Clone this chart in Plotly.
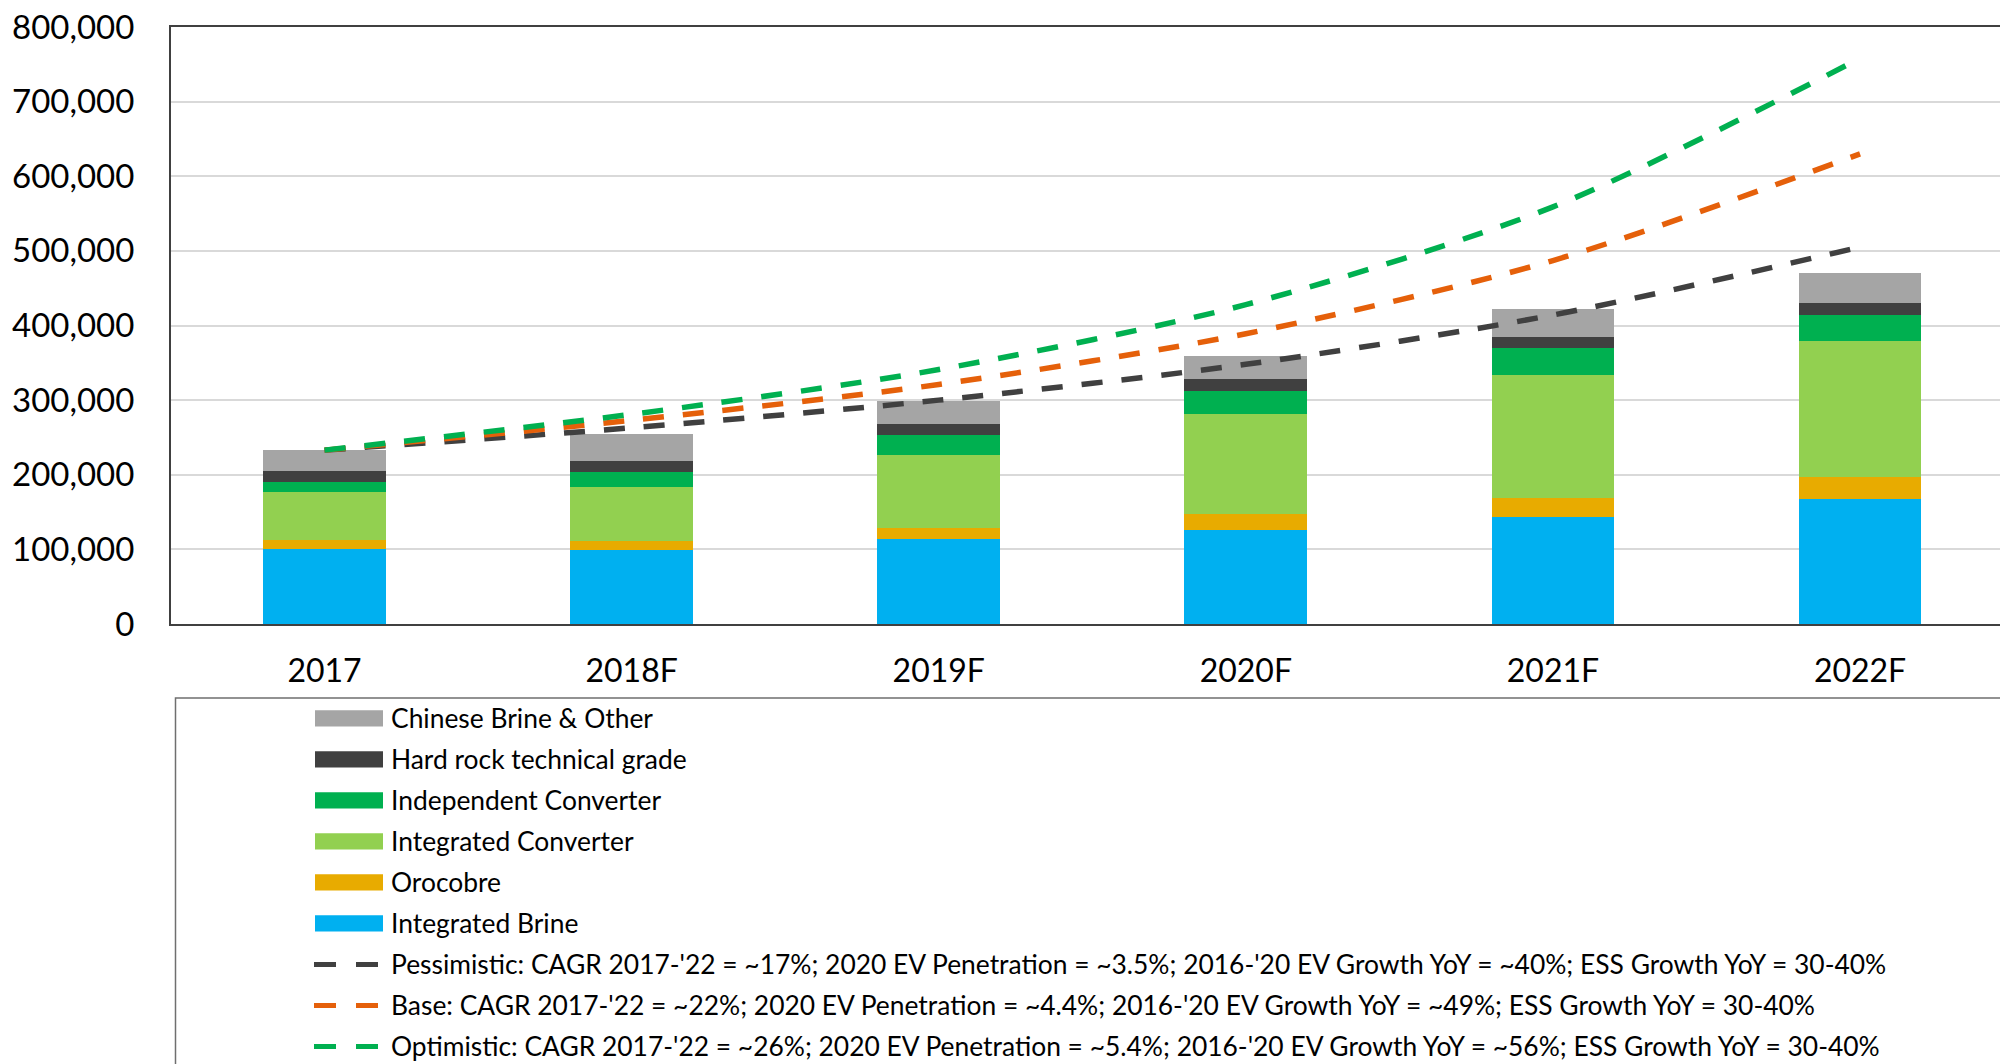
import plotly.graph_objects as go

# ---------------- data ----------------
categories = ["2017", "2018F", "2019F", "2020F", "2021F", "2022F"]

integrated_brine = [101000, 98800, 113500, 125900, 144000, 167700]
orocobre = [12000, 13000, 14700, 20900, 25400, 29400]
integrated_converter = [63700, 71700, 97700, 134400, 164300, 181800]
independent_converter = [14100, 20300, 27100, 31600, 35600, 35600]
hard_rock_technical = [14200, 15300, 14600, 15800, 15800, 15800]
chinese_brine_other = [28200, 35000, 31100, 30500, 36700, 39500]

pessimistic = [233000, 263000, 300000, 348000, 414000, 505000]
base = [233000, 273000, 321000, 389000, 487000, 630000]
optimistic = [233000, 281000, 341000, 428000, 559000, 758000]

bar_names = ["Integrated Brine", "Orocobre", "Integrated Converter",
             "Independent Converter", "Hard rock technical grade",
             "Chinese Brine & Other"]
bar_series = [integrated_brine, orocobre, integrated_converter,
              independent_converter, hard_rock_technical, chinese_brine_other]
bar_colors = ["#00B0F0", "#E8AB00", "#92D050", "#00B050", "#404040", "#A5A5A5"]

line_names = [
    "Pessimistic: CAGR 2017-'22 = ~17%; 2020 EV Penetration = ~3.5%; 2016-'20 EV Growth YoY = ~40%; ESS Growth YoY = 30-40%",
    "Base: CAGR 2017-'22 = ~22%; 2020 EV Penetration = ~4.4%; 2016-'20 EV Growth YoY = ~49%; ESS Growth YoY = 30-40%",
    "Optimistic: CAGR 2017-'22 = ~26%; 2020 EV Penetration = ~5.4%; 2016-'20 EV Growth YoY = ~56%; ESS Growth YoY = 30-40%",
]
line_series = [pessimistic, base, optimistic]
line_colors = ["#404040", "#E5600A", "#00B050"]

# ---------------- layout geometry (pixels, page = figure since body margin is removed) ----------------
W, H = 2000, 1064
ML, MR, MT, MB = 171, 0, 27, 440
PW = W - ML - MR
PH = H - MT - MB
FONT = "Lato"


def px_x(px):
    return (px - ML) / PW


def px_y(py):
    return (H - MB - py) / PH


fig = go.Figure()

for name, vals, col in zip(bar_names, bar_series, bar_colors):
    fig.add_trace(go.Bar(
        x=categories, y=vals, name=name, marker=dict(color=col, line=dict(width=0)),
        width=0.4, showlegend=False,
    ))

for name, vals, col in zip(line_names, line_series, line_colors):
    fig.add_trace(go.Scatter(
        x=categories, y=vals, name=name, mode="lines",
        line=dict(color=col, width=5.5, dash="21px,19px", shape="spline", smoothing=0.8),
        showlegend=False,
    ))

shapes = []
annotations = []

# legend box
shapes.append(dict(type="rect", xref="paper", yref="paper",
                   x0=px_x(175.5), x1=px_x(2030), y0=px_y(698), y1=px_y(1090),
                   line=dict(color="#6F6F6F", width=1.5), fillcolor="rgba(0,0,0,0)",
                   layer="above"))

legend_items = []
for name, col in zip(bar_names[::-1], bar_colors[::-1]):
    legend_items.append(("bar", name, col))
for name, col in zip(line_names, line_colors):
    legend_items.append(("line", name, col))

row0 = 718.4
row_gap = 41.0
for i, (kind, name, col) in enumerate(legend_items):
    cy = row0 + i * row_gap
    if kind == "bar":
        shapes.append(dict(type="rect", xref="paper", yref="paper",
                           x0=px_x(315), x1=px_x(383), y0=px_y(cy - 8.2), y1=px_y(cy + 8.2),
                           line=dict(width=0), fillcolor=col))
    else:
        shapes.append(dict(type="line", xref="paper", yref="paper",
                           x0=px_x(314), x1=px_x(379), y0=px_y(cy), y1=px_y(cy),
                           line=dict(color=col, width=5, dash="22px,20px")))
    annotations.append(dict(xref="paper", yref="paper", x=px_x(389), y=px_y(cy),
                            xanchor="left", yanchor="middle", showarrow=False,
                            text=name, font=dict(family=FONT, size=26.4, color="#000000")))

fig.update_layout(
    width=W, height=H,
    margin=dict(l=ML, r=MR, t=MT, b=MB, pad=0),
    paper_bgcolor="white", plot_bgcolor="white",
    barmode="stack",
    showlegend=False,
    hovermode=False,
    font=dict(family=FONT, color="#000000"),
    shapes=shapes,
    annotations=annotations,
    xaxis=dict(
        type="category", categoryorder="array", categoryarray=categories,
        range=[-0.5, -0.5 + PW / 307.1],
        showline=True, linecolor="#404040", linewidth=2, mirror=True,
        showgrid=False, zeroline=False,
        ticks="outside", ticklen=0, ticklabelstandoff=18,
        tickfont=dict(family=FONT, size=32, color="#000000"),
    ),
    yaxis=dict(
        range=[0, 800000], tickmode="linear", tick0=0, dtick=100000,
        tickformat=",d",
        showline=True, linecolor="#404040", linewidth=2, mirror=False,
        showgrid=True, gridcolor="#D9D9D9", gridwidth=2,
        zeroline=False,
        ticks="outside", ticklen=0, ticklabelstandoff=28,
        ticklabeloverflow="allow",
        tickfont=dict(family=FONT, size=33, color="#000000"),
    ),
)

fig.write_html(
    "out.html",
    config={"displayModeBar": False},
    post_script=("document.documentElement.style.overflow='hidden';"
                 "document.body.style.overflow='hidden';"
                 "document.body.style.margin='0';"),
)
